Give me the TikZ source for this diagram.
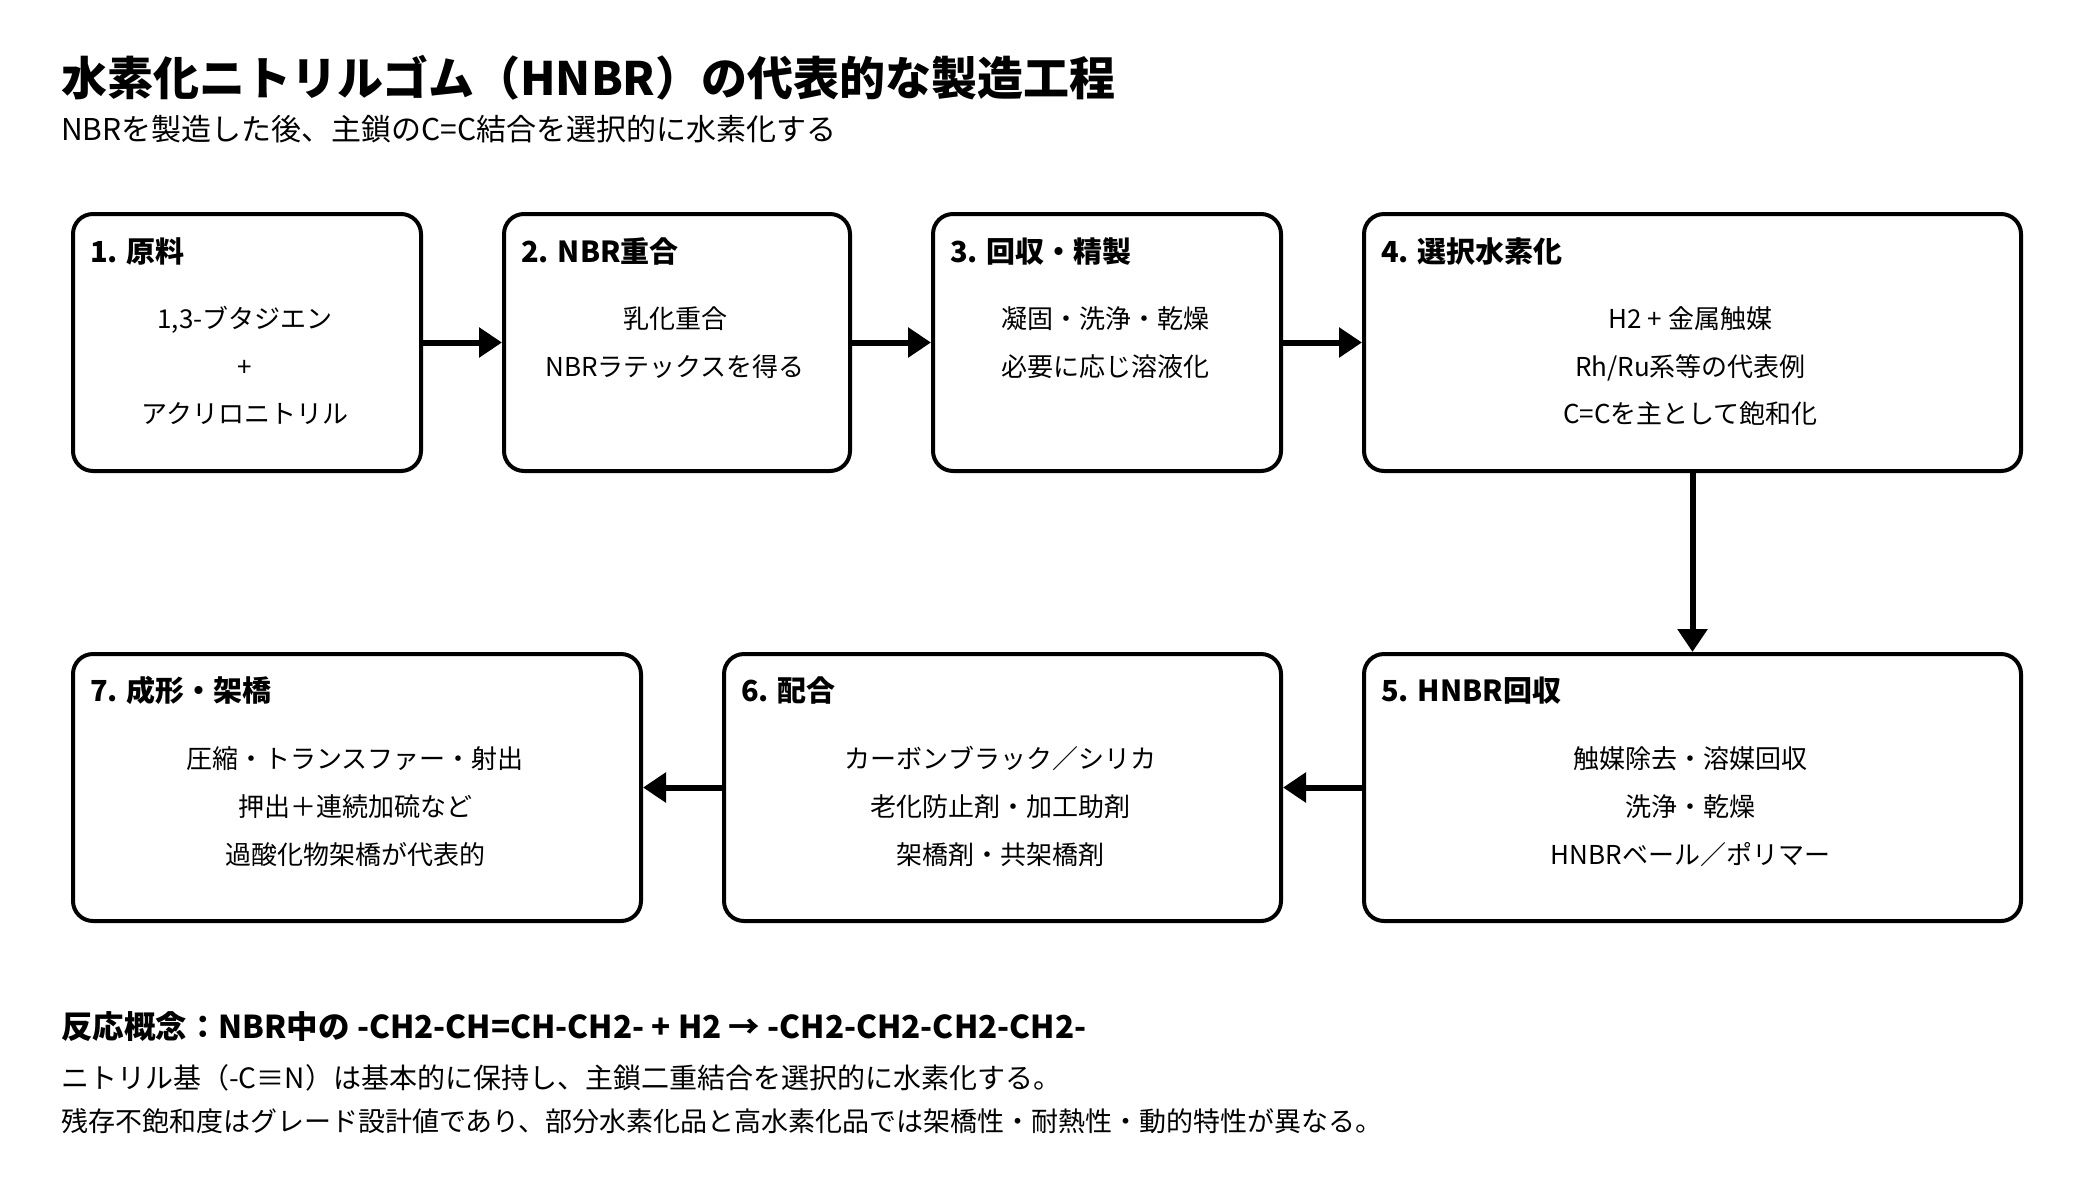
\documentclass[tikz,border=0pt]{standalone}
\usepackage{fontspec}
\setmainfont{Noto Sans CJK JP}
\usetikzlibrary{arrows.meta}
\begin{document}
\begin{tikzpicture}[x=1pt,y=-1pt,
  stage/.style={draw=black,line width=4pt,rounded corners=20pt,fill=white,anchor=north west,inner sep=0pt},
  head/.style={anchor=base west,inner sep=0pt,font=\fontsize{29}{34}\selectfont\bfseries},
  body/.style={anchor=base,inner sep=0pt,font=\fontsize{26}{30}\selectfont},
  flow/.style={line width=6pt,-{Triangle[length=23pt,width=29pt]}},
  ttl/.style={anchor=base west,inner sep=0pt,font=\fontsize{46}{52}\selectfont\bfseries},
  sub/.style={anchor=base west,inner sep=0pt,font=\fontsize{30}{35}\selectfont},
  noteb/.style={anchor=base west,inner sep=0pt,font=\fontsize{31.5}{36}\selectfont\bfseries}
]
\fill[white] (0,0) rectangle (2100,1200);
\useasboundingbox (0,0) rectangle (2100,1200);

\node[ttl] (title) at (61,95) {水素化ニトリルゴム（HNBR）の代表的な製造工程};
\node[sub] (subtitle) at (61,140) {NBRを製造した後、主鎖のC=C結合を選択的に水素化する};

% boxes
\node[stage,minimum width=348pt,minimum height=257pt] (s1) at (71,212) {};
\node[stage,minimum width=346pt,minimum height=257pt] (s2) at (502,212) {};
\node[stage,minimum width=348pt,minimum height=257pt] (s3) at (931,212) {};
\node[stage,minimum width=657pt,minimum height=257pt] (s4) at (1362,212) {};
\node[stage,minimum width=657pt,minimum height=267pt] (s5) at (1362,652) {};
\node[stage,minimum width=557pt,minimum height=267pt] (s6) at (722,652) {};
\node[stage,minimum width=568pt,minimum height=267pt] (s7) at (71,652) {};

% headers
\node[head] (h1) at (90,262) {1. 原料};
\node[head] (h2) at (521,262) {2. NBR重合};
\node[head] (h3) at (950,262) {3. 回収・精製};
\node[head] (h4) at (1381,262) {4. 選択水素化};
\node[head] (h5) at (1381,701) {5. HNBR回収};
\node[head] (h6) at (741,701) {6. 配合};
\node[head] (h7) at (90,701) {7. 成形・架橋};

% bodies
\node[body] (b1a) at (245,328) {1,3-ブタジエン};
\node[body] (b1b) at (245,376) {+};
\node[body] (b1c) at (245,423) {アクリロニトリル};
\node[body] (b2a) at (675,328) {乳化重合};
\node[body] (b2b) at (675,376) {NBRラテックスを得る};
\node[body] (b3a) at (1105,328) {凝固・洗浄・乾燥};
\node[body] (b3b) at (1105,376) {必要に応じ溶液化};
\node[body] (b4a) at (1690.5,328) {H2 + 金属触媒};
\node[body] (b4b) at (1690.5,376) {Rh/Ru系等の代表例};
\node[body] (b4c) at (1690.5,423) {C=Cを主として飽和化};
\node[body] (b5a) at (1690.5,768) {触媒除去・溶媒回収};
\node[body] (b5b) at (1690.5,816) {洗浄・乾燥};
\node[body] (b5c) at (1690.5,864) {HNBRベール／ポリマー};
\node[body] (b6a) at (1000.5,768) {カーボンブラック／シリカ};
\node[body] (b6b) at (1000.5,816) {老化防止剤・加工助剤};
\node[body] (b6c) at (1000.5,864) {架橋剤・共架橋剤};
\node[body] (b7a) at (355,768) {圧縮・トランスファー・射出};
\node[body] (b7b) at (355,816) {押出＋連続加硫など};
\node[body] (b7c) at (355,864) {過酸化物架橋が代表的};

% connectors
\draw[flow] (s1.east) -- (s2.west);
\draw[flow] (s2.east) -- (s3.west);
\draw[flow] (s3.east) -- (s4.west);
\draw[flow] (s4.south) -- (s5.north);
\draw[flow] (s5.west) -- (s6.east);
\draw[flow] (s6.west) -- (s7.east);

% notes
\node[noteb] (n1) at (61,1038) {反応概念：NBR中の -CH2-CH=CH-CH2- + H2 → -CH2-CH2-CH2-CH2-};
\node[anchor=base west,inner sep=0pt,font=\fontsize{28}{33}\selectfont] (n2) at (61,1088) {ニトリル基（-C≡N）は基本的に保持し、主鎖二重結合を選択的に水素化する。};
\node[anchor=base west,inner sep=0pt,font=\fontsize{27}{32}\selectfont] (n3) at (61,1131) {残存不飽和度はグレード設計値であり、部分水素化品と高水素化品では架橋性・耐熱性・動的特性が異なる。};
\end{tikzpicture}
\end{document}
